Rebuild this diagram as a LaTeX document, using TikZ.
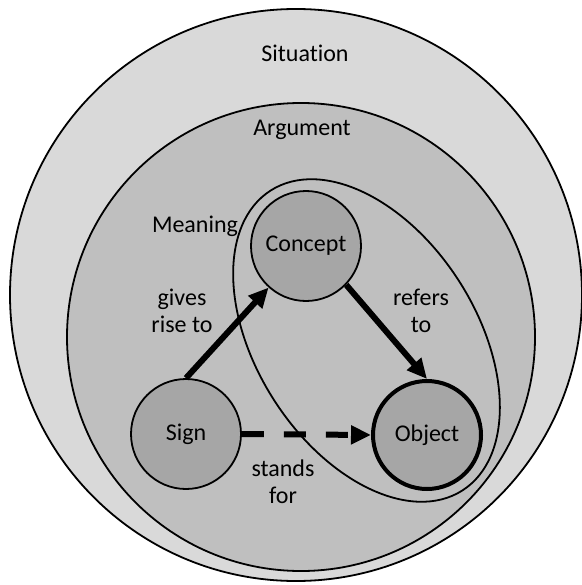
\documentclass[tikz,border=0pt]{standalone}
\usepackage{fontspec}
\setmainfont{Carlito}[Ligatures={NoCommon}]
\usetikzlibrary{arrows.meta}
\definecolor{sitfill}{HTML}{D9D9D9}
\definecolor{argfill}{HTML}{BFBFBF}
\definecolor{nodefill}{HTML}{A6A6A6}
\begin{document}
\begin{tikzpicture}[x=1pt,y=-1pt,
  every node/.style={font=\fontsize{24}{26.5}\selectfont, text=black},
  term/.style={circle, draw, line width=1.8pt, fill=nodefill, minimum size=110pt, inner sep=0pt},
  lbl/.style={align=center, anchor=base, inner sep=0pt},
  arr/.style={line width=6pt, -{Triangle[length=20pt,width=18pt]}},
  ring/.style={line width=1.8pt}
]
\useasboundingbox (0,0) rectangle (581,585);
\fill[white] (0,0) rectangle (581,585);
\draw[ring, fill=sitfill] (296,295) circle[radius=286pt];
\draw[ring, fill=argfill] (301,337) circle[radius=234pt];
\draw[ring, rotate around={-57.4:(366.5,340.5)}] (366.5,340.5) ellipse[x radius=178pt, y radius=110pt];

\node[lbl] (sit) at (305,62) {Situation};
\node[lbl] (arg) at (302,136) {Argument};
\node[lbl] (mea) at (195,232) {Meaning};
\node[lbl] (gives) at (182,332) {gives\\rise to};
\node[lbl] (refers) at (421,332) {refers\\to};
\node[lbl] (stands) at (283,503) {stands\\for};

\node[term] (concept) at (306,246) {Concept};
\node[term] (sign) at (186,434) {Sign};
\node[term, line width=4pt, minimum size=108pt] (object) at (427,435) {Object};

\draw[arr] (sign.north) -- (concept.228);
\draw[arr] (concept.316) -- (object.north);
\draw[arr, dash pattern=on 22pt off 20pt] (sign.east) -- (object.west);
\end{tikzpicture}
\end{document}
